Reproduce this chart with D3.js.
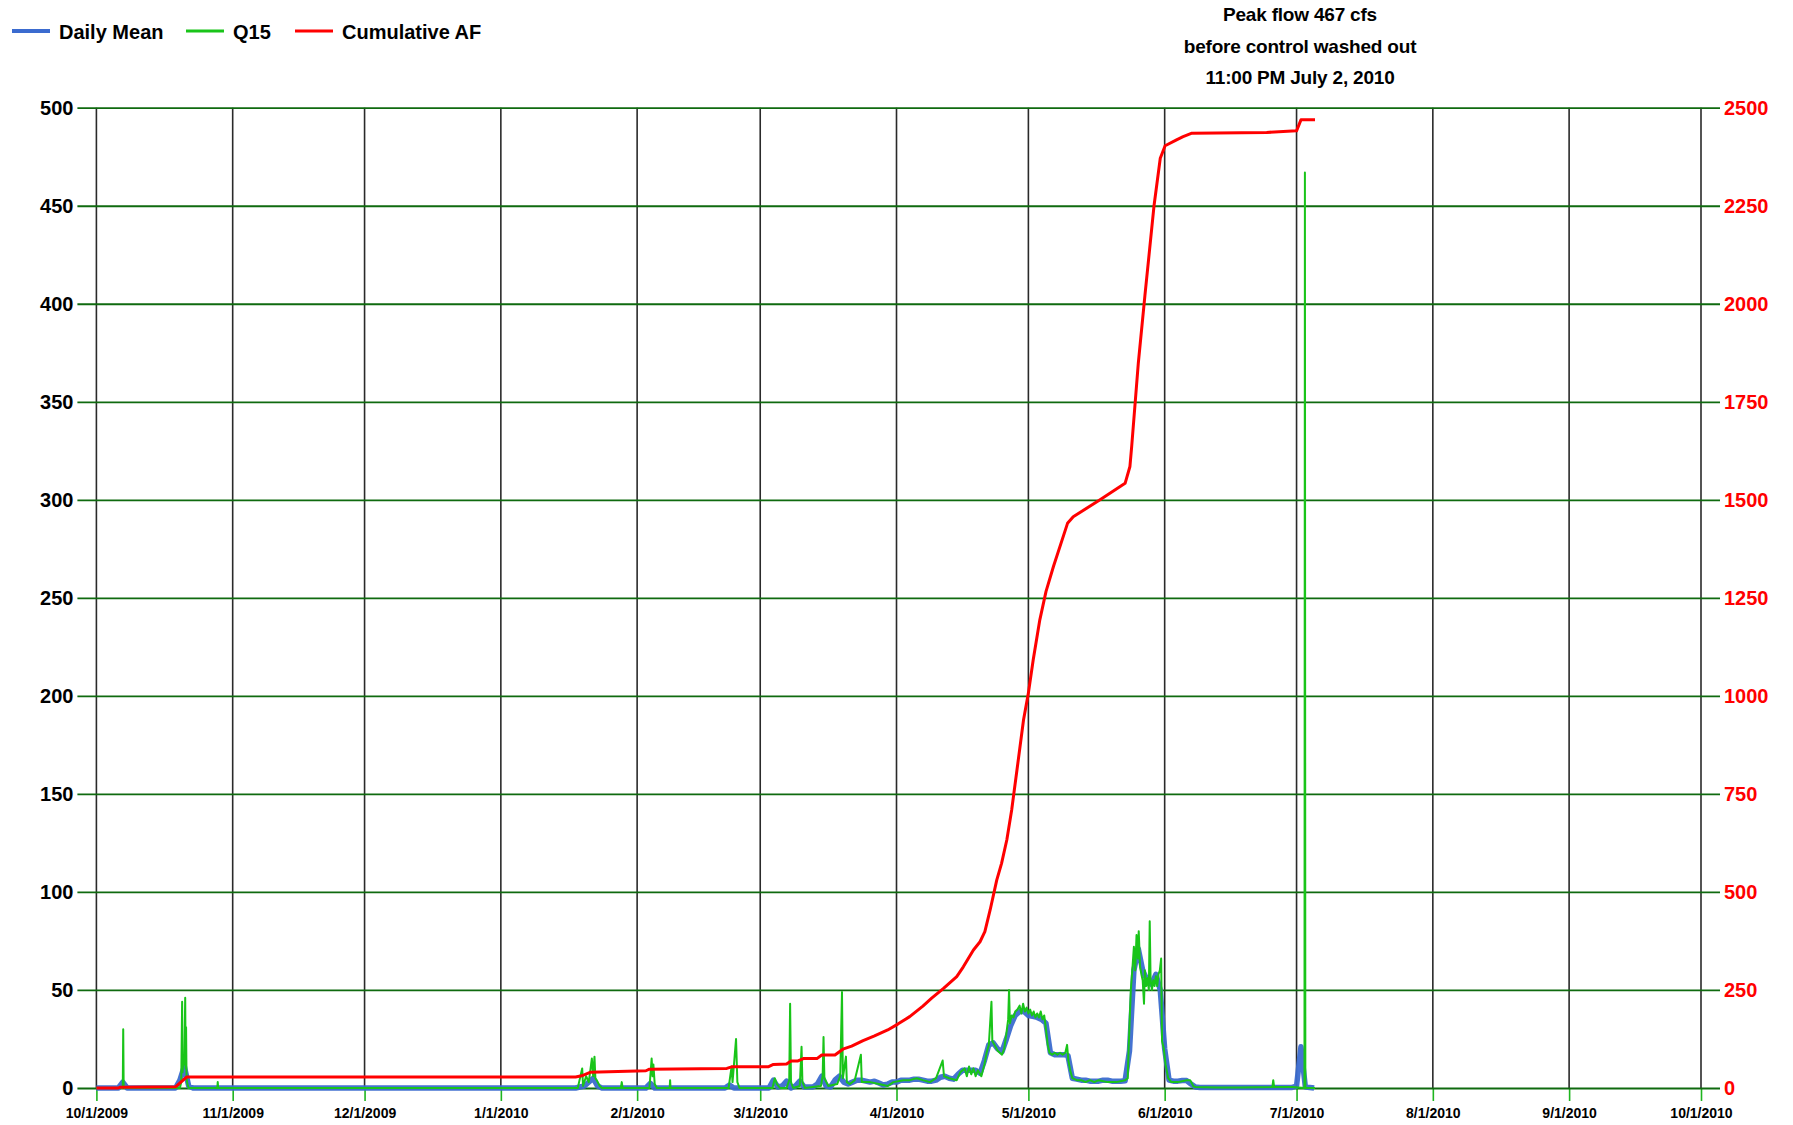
<!DOCTYPE html>
<html>
<head>
<meta charset="utf-8">
<script src="https://cdn.jsdelivr.net/npm/d3@7"></script>
<style>
  body { margin: 0; background: #fff; }
  text { font-family: "Liberation Sans", Arial, Helvetica, sans-serif; font-weight: bold; }
</style>
</head>
<body>
<div class="chart"></div>
<script>
// Water year 2010, days counted from 10/1/2009
var startDate = "2009-10-01";
var endDate = "2010-10-01";

var leftTicks = [0, 50, 100, 150, 200, 250, 300, 350, 400, 450, 500];
var rightTicks = [0, 250, 500, 750, 1000, 1250, 1500, 1750, 2000, 2250, 2500];
var seriesNames = ["Daily Mean", "Q15", "Cumulative AF"];
var noteLines = ["Peak flow 467 cfs", "before control washed out", "11:00 PM July 2, 2010"];

// Daily mean flow, cfs
var meanDays = [0, 5, 6, 7, 18, 19, 20, 21, 22, 109, 111, 113, 114, 115, 125, 126, 127, 143, 144, 145,
  153, 154, 155, 156, 157, 158, 159, 160, 161, 163, 164, 165, 166, 167, 168, 169, 170, 171, 172, 173,
  174, 175, 176, 177, 178, 179, 180, 181, 182, 183, 184, 185, 186, 187, 188, 189, 190, 191, 192, 193,
  194, 195, 196, 197, 198, 199, 200, 201, 202, 203, 204, 205, 206, 207, 208, 209, 210, 211, 212, 213,
  214, 215, 216, 217, 218, 219, 220, 221, 222, 223, 224, 225, 226, 227, 228, 229, 230, 231, 232, 233,
  234, 235, 236, 237, 238, 239, 240, 241, 242, 243, 244, 245, 246, 247, 248, 249, 250, 251, 260, 272,
  273, 274, 275, 276, 277];
var meanCfs = [0, 0, 3, 0, 0, 4, 11, 1, 0, 0, 1, 5, 1, 0, 0, 2.4, 0, 0, 1.5, 0,
  0, 4, 0.5, 1, 3.5, 0, 1, 3.5, 0.5, 0.5, 2, 6, 1, 0.5, 4, 6, 3, 2, 3, 4,
  4, 3.5, 3, 3.5, 2.5, 1.5, 2, 3, 3, 4, 4, 4, 4.5, 4.5, 4, 3.5, 3.5, 4, 5.5, 6,
  5, 4.5, 7, 9, 9, 9, 9, 7.5, 14, 22, 23, 20, 18.5, 25, 32, 37, 39, 39, 37, 36.5,
  36, 35, 33, 18, 17, 17, 17, 16.5, 5, 4.5, 4, 4, 3.5, 3.5, 3.5, 4, 4, 3.5, 3.5, 3.5,
  3.7, 19, 60, 71, 60, 55, 53, 58, 50, 20, 4, 3.5, 3.5, 3.8, 3.8, 2, 0.5, 0.3, 0.2, 0.3,
  1, 21, 0.5, 0.3, 0];

// 15-minute flow, cfs (picked points)
var q15Days = [0, 6.0, 6.1, 6.2, 6.5, 19.0, 19.3, 19.5, 19.6, 19.8, 20.0, 20.2, 20.3, 20.4, 20.5, 20.7, 21,
  27.5, 27.6, 27.7, 109.5, 110.5, 110.7, 111.4, 112, 112.7, 113.0, 113.3, 113.5, 113.8, 114.5, 115,
  119.3, 119.5, 119.7, 125.8, 126.3, 126.5, 126.7, 127, 127.5, 130.4, 130.5, 130.6,
  143.8, 144.5, 144.7, 145.5, 145.8, 146.3, 153.8, 154.3, 154.8, 155.5, 157, 157.6, 157.8, 158, 158.5,
  160, 160.4, 160.6, 161.2, 164.8, 165.2, 165.4, 165.6, 166.5, 168.5, 169.2, 169.6, 169.8, 170.5, 170.7,
  171.4, 172.5, 173.9, 174.1, 175.2, 176, 178, 180, 181.3, 183.6, 185, 186.6, 188, 189.6, 191, 192.5,
  192.8, 194, 195.7, 196.5, 197.5, 198, 198.5, 199, 199.5, 200, 200.5, 201.3, 202, 202.5, 203, 203.6,
  203.8, 204.3, 205, 205.5, 206, 206.5, 207, 207.4, 207.6, 207.8, 208.2, 208.6, 209, 209.5, 210, 210.4,
  210.8, 211.2, 211.6, 212, 212.4, 212.8, 213.2, 213.6, 214, 214.4, 214.8, 215.2, 215.6, 216, 216.4,
  216.8, 217.4, 218, 218.6, 219.2, 219.8, 220.4, 220.8, 221.1, 221.5, 222, 223, 224, 225, 226, 227,
  228, 230, 232, 234, 234.6, 234.8, 235.3, 235.7, 236, 236.3, 236.6, 236.9, 237.1, 237.4, 237.7, 238,
  238.3, 238.5, 238.8, 239.1, 239.4, 239.6, 239.8, 240.1, 240.4, 240.7, 241, 241.3, 241.6, 241.9, 242.2,
  242.4, 242.8, 243.2, 243.8, 244.5, 246, 248, 248.8, 249.5, 250, 255, 260, 267.5, 267.7, 267.9, 272,
  274.8, 274.9, 275.0, 277.2];
var q15Cfs = [0, 0, 30, 1, 0, 0, 3, 44, 8, 15, 12, 46, 10, 31, 5, 2, 0,
  0, 3, 0, 0, 10, 1, 6, 3, 15, 6, 16, 5, 4, 1, 0,
  0, 3, 0, 0, 15, 6, 12, 2, 0, 0, 4, 0,
  0, 11, 3, 25, 3, 0, 0, 5, 2, 0, 0, 4, 43, 3, 0,
  1, 21, 3, 0, 1, 6, 26, 5, 1, 2, 6, 49, 5, 16, 3,
  2, 4, 17, 3, 3, 3, 2, 1, 3, 4, 4, 5, 4, 3, 5, 14,
  6, 5, 4, 8, 10, 6, 11, 7, 10, 6, 9, 6, 12, 18, 22, 44,
  24, 22, 19, 18, 17, 20, 28, 35, 50, 33, 37, 36, 39, 40, 42, 38,
  43, 39, 41, 38, 40, 37, 39, 36, 38, 36, 39, 35, 37, 30, 22,
  18, 17, 18, 17, 18, 17, 18, 22, 14, 9, 5, 4, 4, 3, 4, 3,
  4, 3, 3, 4, 5, 20, 50, 62, 72, 60, 78, 66, 80, 62, 58, 55,
  43, 60, 52, 56, 50, 85, 55, 50, 55, 52, 57, 52, 58, 60, 66,
  24, 20, 12, 5, 3, 3, 4, 4, 1, 0.5, 0.3, 0.3, 0.5, 4, 0.5, 0.5,
  0, 467, 0, 0];

// Cumulative volume, acre-feet
var cumDays = [0, 5, 5.4, 18, 20.5, 109, 110.4, 112.3, 125, 125.8, 143.4, 144.5, 152.8, 154, 157, 158,
  159.6, 160.8, 163.9, 165, 168, 169.8, 171.8, 174.4, 177, 180, 182.3, 185, 188, 190, 192.7, 195.7,
  197.2, 199.5, 201, 202.1, 203.3, 204.8, 205.9, 207.1, 208.2, 209.4, 210.9, 212, 213.1, 214.6, 216,
  217.7, 220.9, 222.2, 228.3, 234, 235.1, 235.5, 237, 238.5, 240.6, 242, 243.1, 245.7, 247.2, 249.2,
  266.2, 273, 274, 277.2];
var cumAF = [0, 0, 2, 3, 28, 28, 31, 40, 44, 48, 50, 54, 54, 60, 61, 69,
  69, 75, 75, 84, 84, 99, 107, 121, 133, 148, 163, 182, 209, 229, 254, 284,
  309, 352, 373, 399, 454, 530, 573, 633, 709, 811, 939, 1007, 1092, 1194, 1266,
  1330, 1440, 1457, 1500, 1542, 1585, 1636, 1848, 2020, 2252, 2371, 2403, 2418, 2426, 2435,
  2437, 2441, 2469, 2469];

var colors = ["#3b6bcf", "#19c419", "#ff0000"];

var svgWidth = 1793;
var svgHeight = 1125;
var plot = { left: 96.4, right: 1701, top: 107.7, bottom: 1088 };
var tickOut = 19;

var svg = d3.select(".chart")
  .append("svg")
  .attr("width", svgWidth)
  .attr("height", svgHeight)
  .style("display", "block");

var parseDate = d3.utcParse("%Y-%m-%d");
var t0 = parseDate(startDate);
var t1 = parseDate(endDate);
function dayToDate(d) { return new Date(t0.getTime() + d * 864e5); }

var x = d3.scaleUtc().domain([t0, t1]).range([plot.left, plot.right]);
var yLeft = d3.scaleLinear().domain([0, 500]).range([plot.bottom, plot.top]);
var yRight = d3.scaleLinear().domain([0, 2500]).range([plot.bottom, plot.top]);

var months = d3.utcMonth.range(t0, d3.utcDay.offset(t1, 1));

// vertical grid (black)
svg.append("g")
  .selectAll("line")
  .data(months)
  .enter()
  .append("line")
  .attr("x1", d => x(d)).attr("x2", d => x(d))
  .attr("y1", plot.top).attr("y2", plot.bottom)
  .attr("stroke", "#2a2a2a")
  .attr("stroke-width", 1.6);

// x axis with green ticks below the zero line
var bottomAxis = d3.axisBottom(x)
  .tickValues(months)
  .tickFormat(d3.utcFormat("%-m/%-d/%Y"))
  .tickSizeInner(13)
  .tickSizeOuter(0)
  .tickPadding(7);
var xAxisG = svg.append("g")
  .attr("transform", `translate(0, ${plot.bottom})`)
  .call(bottomAxis);
xAxisG.select(".domain").remove();
xAxisG.selectAll(".tick line").attr("stroke", "#1fb51f").attr("stroke-width", 1.6);
xAxisG.selectAll(".tick text")
  .attr("fill", "#000")
  .style("font-size", "14px")
  .style("font-family", "'Liberation Sans', Arial, sans-serif")
  .style("font-weight", "bold");

// left axis: horizontal grid lines run through to the right ticks
var leftAxis = d3.axisLeft(yLeft)
  .tickValues(leftTicks)
  .tickSize(-(plot.right - plot.left + 2 * tickOut))
  .tickPadding(4);
var yAxisG = svg.append("g")
  .attr("transform", `translate(${plot.left - tickOut}, 0)`)
  .call(leftAxis);
yAxisG.select(".domain").remove();
yAxisG.selectAll(".tick line").attr("stroke", "#0f6a0f").attr("stroke-width", 1.8);
yAxisG.selectAll(".tick text")
  .attr("fill", "#000")
  .style("font-size", "20px")
  .style("font-family", "'Liberation Sans', Arial, sans-serif")
  .style("font-weight", "bold");

var rightAxis = d3.axisRight(yRight)
  .tickValues(rightTicks)
  .tickFormat(d3.format("d"))
  .tickSize(0)
  .tickPadding(4);
var yRightG = svg.append("g")
  .attr("transform", `translate(${plot.right + tickOut}, 0)`)
  .call(rightAxis);
yRightG.select(".domain").remove();
yRightG.selectAll(".tick text")
  .attr("fill", "#ff0000")
  .style("font-size", "20px")
  .style("font-family", "'Liberation Sans', Arial, sans-serif")
  .style("font-weight", "bold");

// series
var meanData = meanDays.map((d, i) => ({ date: dayToDate(d), v: meanCfs[i] }));
var q15Data = q15Days.map((d, i) => ({ date: dayToDate(d), v: q15Cfs[i] }));
var cumData = cumDays.map((d, i) => ({ date: dayToDate(d), v: cumAF[i] }));

var lineLeft = d3.line().x(d => x(d.date)).y(d => yLeft(d.v));
var lineRight = d3.line().x(d => x(d.date)).y(d => yRight(d.v));

svg.append("path")
  .datum(meanData)
  .attr("d", lineLeft)
  .attr("fill", "none")
  .attr("stroke", colors[0])
  .attr("stroke-width", 5.5)
  .attr("stroke-linejoin", "round")
  .attr("opacity", 0.95);

svg.append("path")
  .datum(q15Data)
  .attr("d", lineLeft)
  .attr("fill", "none")
  .attr("stroke", colors[1])
  .attr("stroke-width", 2)
  .attr("stroke-linejoin", "round");

svg.append("path")
  .datum(cumData)
  .attr("d", lineRight)
  .attr("fill", "none")
  .attr("stroke", colors[2])
  .attr("stroke-width", 3)
  .attr("stroke-linejoin", "round");

// legend
var legendX = [12, 186, 295];
var legendWidths = [4, 3, 3];
var legend = svg.append("g");
seriesNames.forEach(function(name, i) {
  legend.append("line")
    .attr("x1", legendX[i]).attr("x2", legendX[i] + 38)
    .attr("y1", 31).attr("y2", 31)
    .attr("stroke", colors[i])
    .attr("stroke-width", legendWidths[i]);
  legend.append("text")
    .attr("x", legendX[i] + 47)
    .attr("y", 38.5)
    .style("font-size", "20px")
    .text(name);
});

// peak note
svg.append("g")
  .selectAll("text")
  .data(noteLines)
  .enter()
  .append("text")
  .attr("x", 1300)
  .attr("y", (d, i) => 21 + i * 31.5)
  .attr("text-anchor", "middle")
  .style("font-size", "19px")
  .style("letter-spacing", "-0.2px")
  .text(d => d);
</script>
</body>
</html>
